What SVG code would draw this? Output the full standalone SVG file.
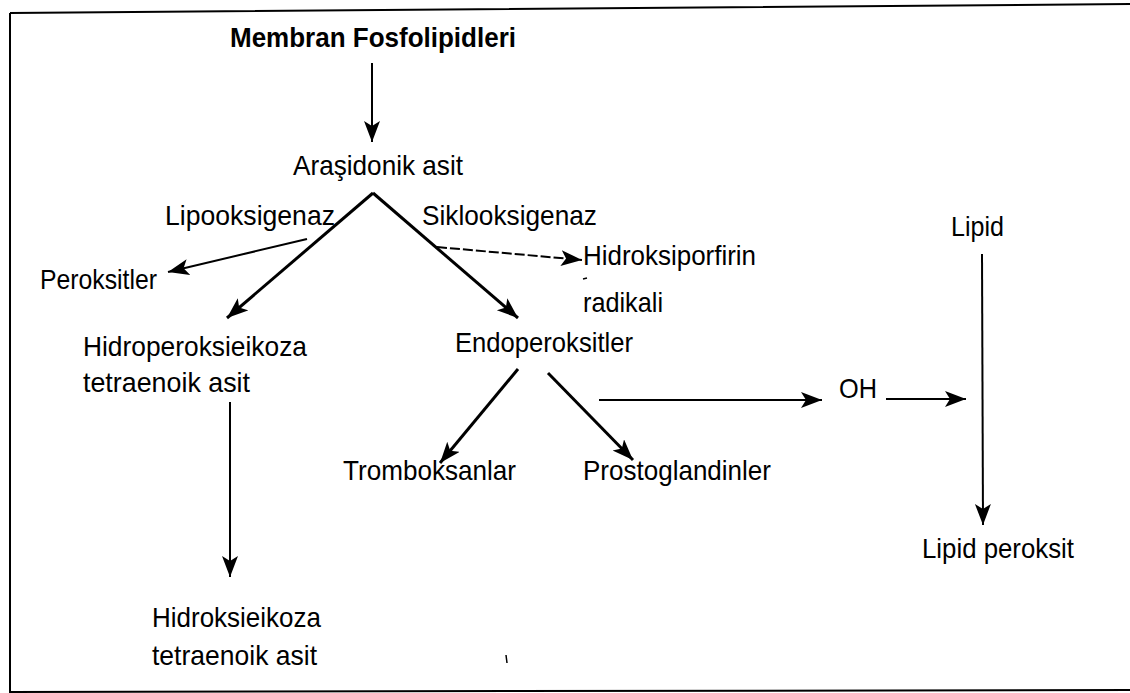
<svg xmlns="http://www.w3.org/2000/svg" width="1130" height="693" viewBox="0 0 1130 693">
<defs>
<style>
.t{font-family:"Liberation Sans",Arial,sans-serif;font-size:28px;fill:#000}
.b{font-weight:bold}
.c{stroke:#000;stroke-width:2;fill:none;marker-end:url(#ah)}
.k{stroke-width:3}
.d{stroke-dasharray:10 3}
.frame{stroke:#000;stroke-width:2;fill:none}
.m{stroke:#000;stroke-width:1.5;fill:none}
</style>
<marker id="ah" markerUnits="userSpaceOnUse" markerWidth="24" markerHeight="18" refX="21" refY="8" orient="auto">
<path d="M0,0 L21,8 L0,16 L5,8 Z" fill="#000"/>
</marker>
</defs>
<rect width="1130" height="693" fill="#fff"/>
<path class="frame" d="M10,13 L1130,4 M10,13 L10,692 L1130,690"/>
<g id="connectors">
<line class="c" x1="372" y1="63" x2="372" y2="142"/>
<line class="c k" x1="373" y1="193" x2="227" y2="318"/>
<line class="c k" x1="373" y1="193" x2="518" y2="318"/>
<line class="c" x1="307" y1="239" x2="168" y2="272"/>
<line class="c d" x1="437" y1="247" x2="582" y2="260"/>
<line class="c k" x1="518" y1="369" x2="440" y2="463"/>
<line class="c k" x1="548" y1="373" x2="633" y2="460"/>
<line class="c" x1="599" y1="400" x2="822" y2="400"/>
<line class="c" x1="886" y1="399" x2="966" y2="399"/>
<line class="c" x1="982" y1="254" x2="983" y2="525"/>
<line class="c" x1="230" y1="402" x2="230" y2="577"/>
</g>
<g id="membran"><text class="t b" x="230" y="47" textLength="286" lengthAdjust="spacingAndGlyphs">Membran Fosfolipidleri</text></g>
<g id="arasidonik"><text class="t" x="293" y="175" textLength="170" lengthAdjust="spacingAndGlyphs">Araşidonik asit</text></g>
<g id="lipooksigenaz"><text class="t" x="165" y="225" textLength="170" lengthAdjust="spacingAndGlyphs">Lipooksigenaz</text></g>
<g id="siklooksigenaz"><text class="t" x="422" y="225" textLength="175" lengthAdjust="spacingAndGlyphs">Siklooksigenaz</text></g>
<g id="peroksitler"><text class="t" x="40" y="289" textLength="117" lengthAdjust="spacingAndGlyphs">Peroksitler</text></g>
<g id="hidroksiporfirin"><text class="t" x="583" y="265" textLength="173" lengthAdjust="spacingAndGlyphs">Hidroksiporfirin</text><text class="t" x="583" y="312" textLength="80" lengthAdjust="spacingAndGlyphs">radikali</text></g>
<g id="hidroperoksi"><text class="t" x="83" y="356" textLength="224" lengthAdjust="spacingAndGlyphs">Hidroperoksieikoza</text><text class="t" x="83" y="392" textLength="167" lengthAdjust="spacingAndGlyphs">tetraenoik asit</text></g>
<g id="endoperoksitler"><text class="t" x="455" y="352" textLength="178" lengthAdjust="spacingAndGlyphs">Endoperoksitler</text></g>
<g id="tromboksanlar"><text class="t" x="343" y="480" textLength="173" lengthAdjust="spacingAndGlyphs">Tromboksanlar</text></g>
<g id="prostoglandinler"><text class="t" x="583" y="480" textLength="188" lengthAdjust="spacingAndGlyphs">Prostoglandinler</text></g>
<g id="oh"><text class="t" x="839" y="398" textLength="38" lengthAdjust="spacingAndGlyphs">OH</text></g>
<g id="lipid"><text class="t" x="951" y="236" textLength="53" lengthAdjust="spacingAndGlyphs">Lipid</text></g>
<g id="lipidperoksit"><text class="t" x="922" y="558" textLength="152" lengthAdjust="spacingAndGlyphs">Lipid peroksit</text></g>
<g id="hidroksieikoza"><text class="t" x="152" y="627" textLength="169" lengthAdjust="spacingAndGlyphs">Hidroksieikoza</text><text class="t" x="152" y="665" textLength="165" lengthAdjust="spacingAndGlyphs">tetraenoik asit</text></g>
<path class="m" d="M583,279 L587,278 M506,655 L507,663"/>
</svg>
